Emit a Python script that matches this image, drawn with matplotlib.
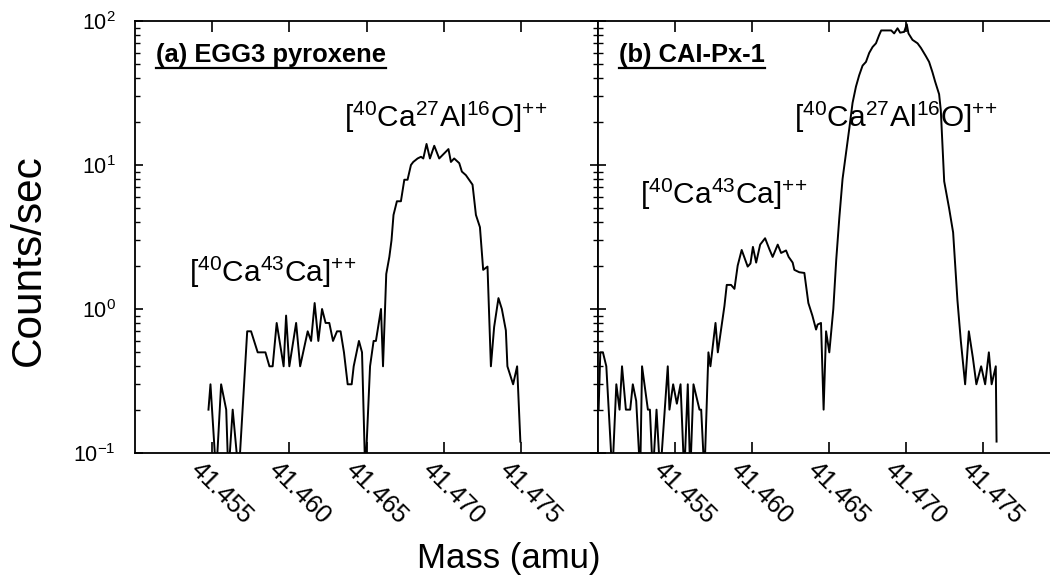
import matplotlib
matplotlib.use('Agg')
import matplotlib.pyplot as plt
from matplotlib.lines import Line2D
from matplotlib.transforms import ScaledTranslation
from matplotlib.ticker import LogLocator, NullFormatter, NullLocator, FixedLocator, FixedFormatter

plt.rcParams['font.family'] = ['Liberation Sans', 'DejaVu Sans']
plt.rcParams['mathtext.fontset'] = 'custom'
plt.rcParams['mathtext.rm'] = 'Liberation Sans'
plt.rcParams['mathtext.it'] = 'Liberation Sans:italic'
plt.rcParams['mathtext.bf'] = 'Liberation Sans:bold'
plt.rcParams['mathtext.default'] = 'regular'

# ---------------- data ----------------
# values below the 0.1 floor (no counts) are drawn just under the axis
mass_a = [41.45476, 41.45489, 41.45526, 41.45558, 41.45591, 41.45605, 41.45633, 41.45672,
          41.45727, 41.45752, 41.45795, 41.45845, 41.45871, 41.45892, 41.45918, 41.45963,
          41.45979, 41.46000, 41.46044, 41.46070, 41.46119, 41.46141, 41.46164, 41.46188,
          41.46212, 41.46235, 41.46259, 41.46283, 41.46309, 41.46332, 41.46354, 41.46378,
          41.46404, 41.46417, 41.46451, 41.46471, 41.46492, 41.46523, 41.46546, 41.46561,
          41.46594, 41.46607, 41.46628, 41.46648, 41.46662, 41.46675, 41.46697, 41.46723,
          41.46745, 41.46766, 41.46788, 41.46803, 41.46831, 41.46853, 41.46868, 41.46889,
          41.46911, 41.46939, 41.46971, 41.47031, 41.47047, 41.47068, 41.47101, 41.47118,
          41.47144, 41.47187, 41.47209, 41.47235, 41.47256, 41.47284, 41.47306, 41.47327,
          41.47355, 41.47377, 41.47403, 41.47413, 41.47450, 41.47476, 41.47497]
counts_a = [0.2, 0.3, 0.07, 0.3, 0.2, 0.07, 0.2, 0.07,
            0.7, 0.7, 0.5, 0.5, 0.4, 0.4, 0.8, 0.4,
            0.9, 0.4, 0.8, 0.4, 0.7, 0.6, 1.1, 0.6,
            1.0, 0.8, 0.8, 0.6, 0.7, 0.7, 0.5, 0.3,
            0.3, 0.4, 0.6, 0.5, 0.07, 0.4, 0.6, 0.6,
            1.0, 0.4, 1.75, 2.3, 3.0, 4.5, 5.6, 5.6,
            7.9, 7.9, 10.0, 10.5, 11.1, 11.4, 11.1, 14.0,
            11.1, 13.6, 11.1, 12.9, 10.5, 11.1, 10.3, 9.0,
            8.5, 7.3, 4.5, 3.7, 1.87, 1.97, 0.4, 0.75,
            1.19, 1.0, 0.71, 0.4, 0.3, 0.4, 0.12]

mass_b = [41.45004, 41.45015, 41.45032, 41.45054, 41.45093, 41.45119, 41.45140, 41.45156,
          41.45181, 41.45209, 41.45226, 41.45248, 41.45274, 41.45286, 41.45324, 41.45337,
          41.45356, 41.45380, 41.45404, 41.45453, 41.45464, 41.45488, 41.45512, 41.45536,
          41.45560, 41.45583, 41.45599, 41.45620, 41.45659, 41.45670, 41.45691, 41.45717,
          41.45730, 41.45763, 41.45778, 41.45821, 41.45836, 41.45864, 41.45886, 41.45907,
          41.45933, 41.45972, 41.45990, 41.46006, 41.46027, 41.46053, 41.46085, 41.46113,
          41.46134, 41.46167, 41.46189, 41.46221, 41.46238, 41.46264, 41.46275, 41.46307,
          41.46340, 41.46366, 41.46392, 41.46416, 41.46426, 41.46448, 41.46465, 41.46481,
          41.46502, 41.46528, 41.46547, 41.46567, 41.46588, 41.46610, 41.46632, 41.46653,
          41.46675, 41.46696, 41.46718, 41.46740, 41.46761, 41.46783, 41.46805, 41.46826,
          41.46839, 41.46904, 41.46923, 41.46945, 41.46962, 41.46988, 41.47005, 41.47016,
          41.47042, 41.47075, 41.47097, 41.47129, 41.47150, 41.47172, 41.47189, 41.47215,
          41.47226, 41.47248, 41.47280, 41.47306, 41.47334, 41.47356, 41.47384, 41.47408,
          41.47434, 41.47457, 41.47488, 41.47514, 41.47538, 41.47556, 41.47583, 41.47588]
counts_b = [0.2, 0.5, 0.5, 0.4, 0.07, 0.3, 0.2, 0.4,
            0.2, 0.2, 0.3, 0.23, 0.07, 0.4, 0.2, 0.2,
            0.07, 0.2, 0.07, 0.4, 0.2, 0.3, 0.22, 0.3,
            0.07, 0.3, 0.07, 0.3, 0.2, 0.2, 0.07, 0.5,
            0.4, 0.8, 0.5, 1.05, 1.47, 1.47, 1.38, 2.0,
            2.57, 1.97, 2.07, 2.7, 2.1, 2.8, 3.1, 2.6,
            2.3, 2.8, 2.45, 2.55, 2.3, 2.1, 1.87, 1.8,
            1.78, 1.1, 0.9, 0.72, 0.78, 0.8, 0.2, 0.7,
            0.5, 1.0, 2.2, 4.3, 8.0, 12.0, 18.0, 27.0,
            35.0, 42.0, 49.0, 52.0, 60.0, 66.0, 70.0, 80.0,
            86.0, 86.0, 82.0, 89.0, 83.0, 84.0, 95.0, 82.0,
            74.0, 70.0, 65.0, 57.0, 52.0, 44.0, 38.0, 31.0,
            24.0, 7.7, 5.0, 3.4, 1.15, 0.6, 0.3, 0.7,
            0.46, 0.3, 0.4, 0.3, 0.5, 0.3, 0.4, 0.12]

xticks = [41.455, 41.460, 41.465, 41.470, 41.475]
xtick_labels = ['41.455', '41.460', '41.465', '41.470', '41.475']
xlim = (41.450, 41.480)
ylim = (0.1, 100)

panel_titles = ['(a) EGG3 pyroxene', '(b) CAI-Px-1']
label_caalo = r'[$^{40}$Ca$^{27}$Al$^{16}$O]$^{{+}{+}}$'
label_caca = r'[$^{40}$Ca$^{43}$Ca]$^{{+}{+}}$'

# ---------------- figure ----------------
W, H = 1050, 577
fig = plt.figure(figsize=(W / 100, H / 100), dpi=100)

def px_box(x0, x1, ytop, ybot):
    return [x0 / W, 1 - ybot / H, (x1 - x0) / W, (ybot - ytop) / H]

ax_a = fig.add_axes(px_box(135, 598, 21, 453))
ax_b = fig.add_axes(px_box(598, 1060, 21, 453))

shift = ScaledTranslation(-9 / 100, 0, fig.dpi_scale_trans)

for ax, m, c in ((ax_a, mass_a, counts_a), (ax_b, mass_b, counts_b)):
    ax.plot(m, c, color='black', lw=1.4)
    ax.set_yscale('log', nonpositive='clip')
    ax.set_xlim(*xlim)
    ax.set_ylim(*ylim)
    ax.xaxis.set_major_locator(FixedLocator(xticks))
    ax.xaxis.set_major_formatter(FixedFormatter(xtick_labels))
    ax.xaxis.set_minor_locator(NullLocator())
    ax.yaxis.set_major_locator(LogLocator(base=10, numticks=10))
    ax.yaxis.set_minor_locator(LogLocator(base=10, subs=range(2, 10), numticks=10))
    ax.yaxis.set_minor_formatter(NullFormatter())
    for s in ax.spines.values():
        s.set_linewidth(1.3)
    ax.tick_params(axis='x', which='major', direction='in', length=8, width=1.2,
                   top=True, bottom=True, labelsize=18, pad=3)
    ax.tick_params(axis='y', which='major', direction='in', length=6, width=1.2,
                   labelsize=15.5, pad=14)
    ax.tick_params(axis='y', which='minor', direction='in', length=3.4, width=1.0)
    for lab in ax.get_xticklabels():
        lab.set_rotation(-45)
        lab.set_ha('left')
        lab.set_va('top')
        lab.set_rotation_mode('anchor')
        lab.set_transform(lab.get_transform() + shift)

ax_a.tick_params(axis='y', which='both', left=True, right=True)
ax_b.tick_params(axis='y', which='both', left=True, right=False, labelleft=False)

title_objs = []
for ax, t in ((ax_a, panel_titles[0]), (ax_b, panel_titles[1])):
    title_objs.append(ax.text(0.046, 0.906, t, transform=ax.transAxes, fontsize=18.4,
                              fontweight='bold', ha='left', va='baseline'))

ax_a.text(0.452, 0.754, label_caalo, transform=ax_a.transAxes, fontsize=21.5,
          ha='left', va='baseline')
ax_a.text(0.117, 0.3965, label_caca, transform=ax_a.transAxes, fontsize=21.5,
          ha='left', va='baseline')
ax_b.text(0.425, 0.754, label_caalo, transform=ax_b.transAxes, fontsize=21.5,
          ha='left', va='baseline')
ax_b.text(0.091, 0.5764, label_caca, transform=ax_b.transAxes, fontsize=21.5,
          ha='left', va='baseline')

fig.text(509 / W, 9 / H, 'Mass (amu)', fontsize=25, ha='center', va='baseline')
fig.text(29 / W, 1 - 260 / H, 'Counts/sec', fontsize=30.5, rotation=90,
         ha='center', va='center')

# underline the panel titles
fig.canvas.draw()
renderer = fig.canvas.get_renderer()
for t in title_objs:
    bb = t.get_window_extent(renderer)
    y = bb.y0 - 1
    fig.add_artist(Line2D([bb.x0 / W, bb.x1 / W], [y / H, y / H],
                          transform=fig.transFigure, color='black', lw=1.6))

fig.savefig('out.png', dpi=100)
